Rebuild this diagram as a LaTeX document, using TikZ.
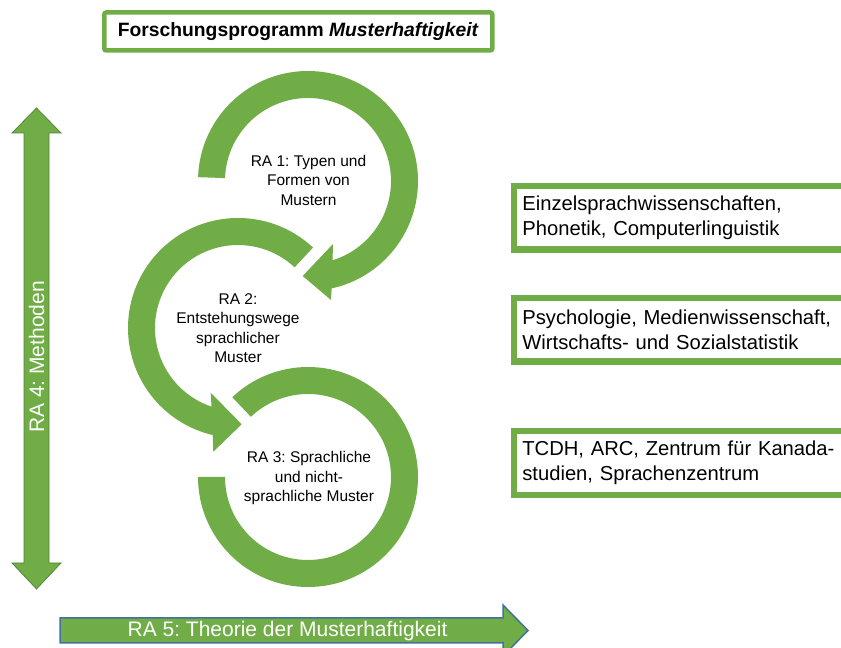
\documentclass[tikz,border=0pt]{standalone}
\usepackage{fontspec}
\setmainfont{Liberation Sans}
\usepackage{tikz}
\usetikzlibrary{calc}
\usepackage{xcolor}
\definecolor{rkgreen}{RGB}{112,173,71}
\definecolor{rkdarkgreen}{RGB}{84,130,53}
\definecolor{rkblue}{RGB}{65,113,156}
\frenchspacing
\tikzstyle{ring} = [fill=rkgreen]
\tikzstyle{ringtext} = [align=center, font=\fontsize{15.5}{19.5}\selectfont]
\tikzstyle{titlebox} = [draw=rkgreen, line width=4.5pt, rounded corners=2pt, fill=white, minimum width=388pt, minimum height=38pt, font=\fontsize{19.3}{23}\selectfont]
\tikzstyle{fieldbox} = [draw=rkgreen, line width=6.3pt, fill=white, anchor=west, minimum height=63.5pt, text width=330pt, inner xsep=8.5pt, align=left, font=\fontsize{20.2}{25.5}\selectfont]
\tikzstyle{arrowtext} = [text=white, font=\fontsize{21}{25}\selectfont]

\begin{document}
\begin{tikzpicture}[x=1pt, y=1pt]
\useasboundingbox (0,0) rectangle (841,648);
\clip (0,0) rectangle (841,648);

% Title
\node[titlebox] (title) at (298.3,616.5) {\textbf{Forschungsprogramm \textit{Musterhaftigkeit}}};

% Ring centres
\coordinate (c1) at (308,467);
\coordinate (c2) at (238,320);
\coordinate (c3) at (308,171);

% RA 1
\begin{scope}[shift={(c1)}]
\fill[ring] (178:110) arc[start angle=178, end angle=-77.6, radius=110]
  -- (23,-119) -- (-5.3,-95) -- (25,-63)
  -- (-72.8:83) arc[start angle=-72.8, end angle=178, radius=83] -- cycle;
\end{scope}
\node[ringtext] (ra1) at ($(c1)+(0.5,1)$) {RA 1: Typen und\\Formen von\\Mustern};

% RA 2
\begin{scope}[shift={(c2)}]
\fill[ring] (47:110) arc[start angle=47, end angle=256.7, radius=110]
  -- (-24.7,-123.7) -- (3.7,-96.3) -- (-27.3,-64.7)
  -- (251.4:83) arc[start angle=251.4, end angle=47, radius=83] -- cycle;
\end{scope}
\node[ringtext] (ra2) at (c2) {RA 2:\\Entstehungswege\\sprachlicher\\Muster};

% RA 3
\begin{scope}[shift={(c3)}]
\fill[ring] (180:110) arc[start angle=180, end angle=493.5, radius=110]
  -- (493.5:83) arc[start angle=493.5, end angle=180, radius=83] -- cycle;
\end{scope}
\node[ringtext] (ra3) at ($(c3)+(1,-1)$) {RA 3: Sprachliche\\und nicht-\\sprachliche Muster};

% RA 4: vertical double arrow
\filldraw[fill=rkgreen, draw=rkdarkgreen, line width=0.75pt]
  (36.5,540) -- (61,515) -- (49,515) -- (49,85) -- (61,85) -- (36.5,59)
  -- (12,85) -- (24,85) -- (24,515) -- (12,515) -- cycle;
\node[arrowtext, rotate=90] (ra4) at (36.5,291) {RA 4: Methoden};

% RA 5: horizontal arrow
\filldraw[fill=rkgreen, draw=rkblue, line width=1.5pt]
  (60,30) -- (503,30) -- (503,43) -- (528,17.5) -- (503,-8) -- (503,5) -- (60,5) -- cycle;
\node[arrowtext, anchor=base] (ra5) at (287.5,11.3) {RA 5: Theorie der Musterhaftigkeit};

% Disciplines
\node[fieldbox] (einzel) at (510.7,430.2) {Einzelsprachwissenschaften,\\Phonetik, Computerlinguistik};
\node[fieldbox] (psycho) at (510.7,318.3) {Psychologie, Medienwissenschaft,\\Wirtschafts- und Sozialstatistik};
\node[fieldbox] (tcdh) at (510.7,185) {TCDH, ARC, Zentrum für Kanada-\\studien, Sprachenzentrum};
\end{tikzpicture}
\end{document}
